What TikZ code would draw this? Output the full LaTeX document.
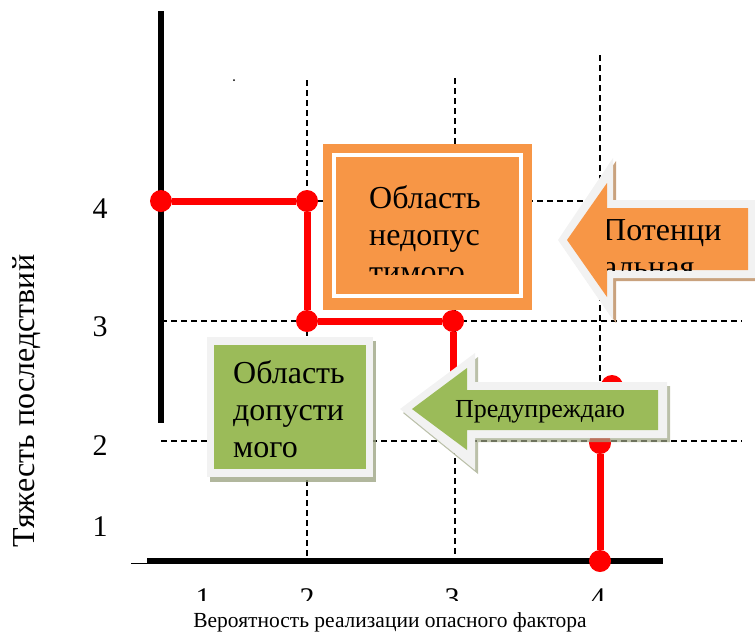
\documentclass[tikz,border=0pt]{standalone}
\usepackage{fontspec}
\setmainfont{Liberation Serif}
\definecolor{accorange}{HTML}{F79646}
\definecolor{accgreen}{HTML}{9BBB59}
\definecolor{framegray}{HTML}{F2F2F2}
\definecolor{greenshadow}{HTML}{9EA585}
\definecolor{orangeshadow}{HTML}{C9A27E}
\begin{document}
\begin{tikzpicture}[x=1pt,y=-1pt,
  grid/.style={dash pattern=on 6pt off 4pt,line width=1.2pt},
  axisline/.style={line width=6pt},
  dot/.style={circle,fill=red,inner sep=0pt,minimum size=22pt},
  redline/.style={red,line width=7pt},
  big/.style={font=\fontsize{32}{37}\selectfont,inner sep=0pt,anchor=base west},
  tick/.style={font=\fontsize{30}{36}\selectfont,inner sep=0pt}]
\useasboundingbox (0,0) rectangle (755,633);
% grid
\draw[grid] (307,80) -- (307,561);
\draw[grid] (455,78) -- (455,561);
\draw[grid] (600,55) -- (600,561);
\draw[grid] (307,201) -- (742,201);
\draw[grid] (161,321) -- (742,321);
\draw[grid] (161,441) -- (742,441);
\fill (234,80) circle (1);
% axes
\draw[axisline] (161,11) -- (161,423);
\draw[axisline] (147,561) -- (663,561);
\draw[line width=1.5pt] (131,563.5) -- (148,563.5);
\node[tick] (y4) at (100,209) {4};
\node[tick] (y3) at (100,327) {3};
\node[tick] (y2) at (100,446) {2};
\node[tick] (y1) at (100,527) {1};
\begin{scope}
\clip (150,570) rectangle (660,600);
\node[tick,anchor=base] (x1) at (203,608) {1};
\node[tick,anchor=base] (x2) at (307,608) {2};
\node[tick,anchor=base] (x3) at (452,608) {3};
\node[tick,anchor=base] (x4) at (598,608) {4};
\end{scope}
\node[rotate=90,font=\fontsize{32}{38}\selectfont,inner sep=0pt] (ytitle) at (27,401) {Тяжесть последствий};
\node[font=\fontsize{21.5}{26}\selectfont,inner sep=0pt,anchor=base] (xtitle) at (390,627.5) {Вероятность реализации опасного фактора};
% red border
\node[dot] (v1) at (161,201) {};
\node[dot] (v2) at (307,201) {};
\node[dot] (v3) at (307,321) {};
\node[dot] (v4) at (453,321) {};
\coordinate (c1) at (453,400);
\coordinate (c2) at (612,400);
\node[dot] (v5) at (612,386) {};
\node[dot] (v6) at (600,443) {};
\node[dot] (v7) at (600,561) {};
\draw[redline] (v1) -- (v2);
\draw[redline] (v2) -- (v3);
\draw[redline] (v3) -- (v4);
\draw[redline,line join=miter] (v4) -- (c1) -- (c2) -- (v5);
\draw[redline] (v5) -- (v6);
\draw[redline] (v6) -- (v7);
% orange box
\fill[accorange] (323,144) rectangle (532,310);
\draw[white,line width=4pt] (334,155) rectangle (521,296);
\begin{scope}
\clip (336,157) rectangle (519,274);
\node[big] (o1) at (369,208) {Область};
\node[big] (o2) at (369,245) {недопус};
\node[big] (o3) at (369,282) {тимого};
\end{scope}
% green box
\fill[greenshadow,opacity=0.8] (210,341) rectangle (376,482);
\fill[framegray] (207,337) rectangle (373,477);
\fill[accgreen] (214,345) rectangle (366,469);
\node[big] (g1) at (233,383) {Область};
\node[big] (g2) at (233,420) {допусти};
\node[big] (g3) at (233,457) {мого};
% green arrow
\fill[greenshadow,opacity=0.7] (403,413) -- (478,357) -- (478,386) -- (670,386) -- (670,442) -- (478,442) -- (478,474) -- cycle;
\fill[framegray] (400,409) -- (475,353) -- (475,382) -- (667,382) -- (667,438) -- (475,438) -- (475,470) -- cycle;
\fill[accgreen] (412,409) -- (467,368) -- (467,390) -- (658,390) -- (658,430) -- (467,430) -- (467,450) -- cycle;
\node[font=\fontsize{26}{30}\selectfont,inner sep=0pt,anchor=base west] (warn) at (455,417) {Предупреждаю};
% orange arrow
\fill[orangeshadow] (561,243) -- (616,161) -- (616,203) -- (758,203) -- (758,281) -- (616,281) -- (616,323) -- cycle;
\fill[framegray] (558,240) -- (613,158) -- (613,200) -- (755,200) -- (755,278) -- (613,278) -- (613,320) -- cycle;
\fill[accorange] (567,240) -- (607,183) -- (607,208) -- (748,208) -- (748,270) -- (607,270) -- (607,297) -- cycle;
\begin{scope}
\clip (607,208) rectangle (748,270);
\node[big] (p1) at (603,240) {Потенци};
\node[big] (p2) at (603,277) {альная};
\end{scope}
\end{tikzpicture}
\end{document}
